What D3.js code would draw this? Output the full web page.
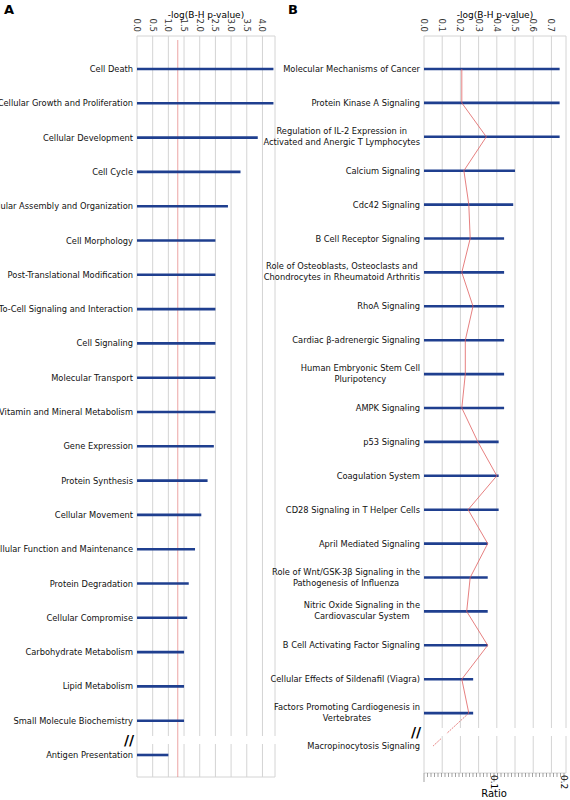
<!DOCTYPE html><html><head><meta charset="utf-8"><script src="https://cdn.jsdelivr.net/npm/d3@7"></script>
<style>body{margin:0;background:#fff}text{font-family:"DejaVu Sans",sans-serif}</style></head><body>
<svg id="c" width="570" height="800"></svg>
<script>
const catsA=["Cell Death","Cellular Growth and Proliferation","Cellular Development","Cell Cycle","Cellular Assembly and Organization","Cell Morphology","Post-Translational Modification","Cell-To-Cell Signaling and Interaction","Cell Signaling","Molecular Transport","Vitamin and Mineral Metabolism","Gene Expression","Protein Synthesis","Cellular Movement","Cellular Function and Maintenance","Protein Degradation","Cellular Compromise","Carbohydrate Metabolism","Lipid Metabolism","Small Molecule Biochemistry","Antigen Presentation"];
const valsA=[4.35,4.35,3.85,3.3,2.9,2.5,2.5,2.5,2.5,2.5,2.5,2.45,2.25,2.05,1.85,1.65,1.6,1.5,1.5,1.5,1.0];
const catsB=["Molecular Mechanisms of Cancer","Protein Kinase A Signaling","Regulation of IL-2 Expression in|Activated and Anergic T Lymphocytes","Calcium Signaling","Cdc42 Signaling","B Cell Receptor Signaling","Role of Osteoblasts, Osteoclasts and|Chondrocytes in Rheumatoid Arthritis","RhoA Signaling","Cardiac β-adrenergic Signaling","Human Embryonic Stem Cell|Pluripotency","AMPK Signaling","p53 Signaling","Coagulation System","CD28 Signaling in T Helper Cells","April Mediated Signaling","Role of Wnt/GSK-3β Signaling in the|Pathogenesis of Influenza","Nitric Oxide Signaling in the|Cardiovascular System","B Cell Activating Factor Signaling","Cellular Effects of Sildenafil (Viagra)","Factors Promoting Cardiogenesis in|Vertebrates","Macropinocytosis Signaling"];
const valsB=[0.745,0.745,0.745,0.5,0.49,0.44,0.44,0.44,0.44,0.44,0.44,0.41,0.41,0.41,0.35,0.35,0.35,0.35,0.27,0.27,0];
const ratioB=[0.054,0.054,0.089,0.057,0.064,0.066,0.054,0.07,0.059,0.059,0.054,0.077,0.104,0.063,0.091,0.066,0.061,0.091,0.054,0.064,0.013];
const ticksA=[0,0.5,1,1.5,2,2.5,3,3.5,4];
const ticksB=[0,0.1,0.2,0.3,0.4,0.5,0.6,0.7];
const threshA=1.3;

const svg=d3.select("#c");
const grid="#d4d4d4", blue="#1f3f8f", red="#e06060";
function panel(o){
  const x=d3.scaleLinear().domain([0,o.max]).range([o.x0,o.x1]);
  const n=o.cats.length;
  const y=i=>i<n-1?o.y0+i*o.step:o.yLast;
  const g=svg.append("g");
  o.ticks.forEach(t=>{
    g.append("line").attr("x1",x(t)).attr("x2",x(t)).attr("y1",o.top).attr("y2",o.bot).attr("stroke",grid);
  });
  g.append("line").attr("x1",o.x0).attr("x2",o.x1).attr("y1",o.top).attr("y2",o.top).attr("stroke",grid);
  g.append("line").attr("x1",o.x1).attr("x2",o.x1).attr("y1",o.top).attr("y2",o.bot).attr("stroke",grid);
  g.append("line").attr("x1",o.x0).attr("x2",o.x1).attr("y1",o.bot).attr("y2",o.bot).attr("stroke",grid);
  g.append("rect").attr("x",o.x0+3).attr("width",o.x1-o.x0).attr("y",o.brk-4).attr("height",8).attr("fill","#fff");
  g.append("text").attr("x",o.x0-8).attr("y",o.brk+5).attr("text-anchor","middle").attr("font-size",14).attr("font-weight","bold").text("//");
  o.ticks.forEach(t=>{
    g.append("text").attr("transform",`translate(${x(t)-3},${o.top-4}) rotate(90)`).attr("text-anchor","end").attr("font-size",8.5).attr("fill","#333").text(t.toFixed(1));
  });
  g.append("text").attr("x",(o.x0+o.x1)/2).attr("y",18).attr("text-anchor","middle").attr("font-size",9).text("-log(B-H p-value)");
  if(o.thresh!=null) g.append("line").attr("x1",x(o.thresh)).attr("x2",x(o.thresh)).attr("y1",o.top+4).attr("y2",o.bot).attr("stroke",red).attr("stroke-width",0.8).attr("opacity",0.7);
  o.cats.forEach((c,i)=>{
    const yy=y(i);
    if(o.vals[i]>0) g.append("line").attr("x1",x(0)).attr("x2",x(o.vals[i])).attr("y1",yy).attr("y2",yy).attr("stroke",blue).attr("stroke-width",2.6);
    const parts=c.split("|");
    const t=g.append("text").attr("font-size",8.3).attr("fill","#111");
    if(parts.length==1){
      t.attr("text-anchor","end").attr("x",o.x0-4).attr("y",yy+3).text(c);
    } else {
      const sp=parts.map((p,k)=>t.append("tspan").attr("y",yy-3+k*11).text(p));
      const w=d3.max(sp.map(s=>s.node().getComputedTextLength()));
      t.attr("text-anchor","middle"); sp.forEach(s=>s.attr("x",o.x0-4-w/2));
    }
  });
  return {x,y,g};
}
panel({cats:catsA,vals:valsA,max:4.4,x0:137,x1:275,top:36,bot:777,y0:69,step:34.3,yLast:755,brk:740,ticks:ticksA,thresh:threshA});
const pB=panel({cats:catsB,vals:valsB,max:0.78,x0:424,x1:566,top:36,bot:773,y0:69,step:33.9,yLast:746,brk:732,ticks:ticksB,thresh:null});
const xr=d3.scaleLinear().domain([0,0.2]).range([424,564]);
const pts=ratioB.map((r,i)=>[xr(r),pB.y(i)]);
const line=d3.line();
pB.g.append("path").attr("d",line(pts.slice(0,20))).attr("fill","none").attr("stroke",red).attr("stroke-width",0.8);
const a=pts[19],b=pts[20];
const seg=f=>[a[0]+(b[0]-a[0])*f,a[1]+(b[1]-a[1])*f];
pB.g.append("path").attr("d",line([a,seg(0.62)])).attr("fill","none").attr("stroke",red).attr("stroke-width",0.8).attr("stroke-dasharray","2,1");
pB.g.append("path").attr("d",line([seg(0.78),b])).attr("fill","none").attr("stroke",red).attr("stroke-width",0.8).attr("stroke-dasharray","2,1");
const ax=svg.append("g");
d3.range(0,41).forEach(k=>{const v=k*0.005;ax.append("line").attr("x1",xr(v)).attr("x2",xr(v)).attr("y1",773).attr("y2",k%20==0?782:777).attr("stroke","#666").attr("stroke-width",0.6);});
[0.1,0.2].forEach(v=>ax.append("text").attr("transform",`translate(${xr(v)-3},775) rotate(90)`).attr("font-size",9).text(v.toFixed(1)));
ax.append("text").attr("x",xr(0.1)).attr("y",797).attr("text-anchor","middle").attr("font-size",10).text("Ratio");
svg.append("text").attr("x",4).attr("y",14).attr("font-size",13).attr("font-weight","bold").attr("font-family","Liberation Sans").text("A");
svg.append("text").attr("x",288).attr("y",14).attr("font-size",13).attr("font-weight","bold").attr("font-family","Liberation Sans").text("B");
</script></body></html>
